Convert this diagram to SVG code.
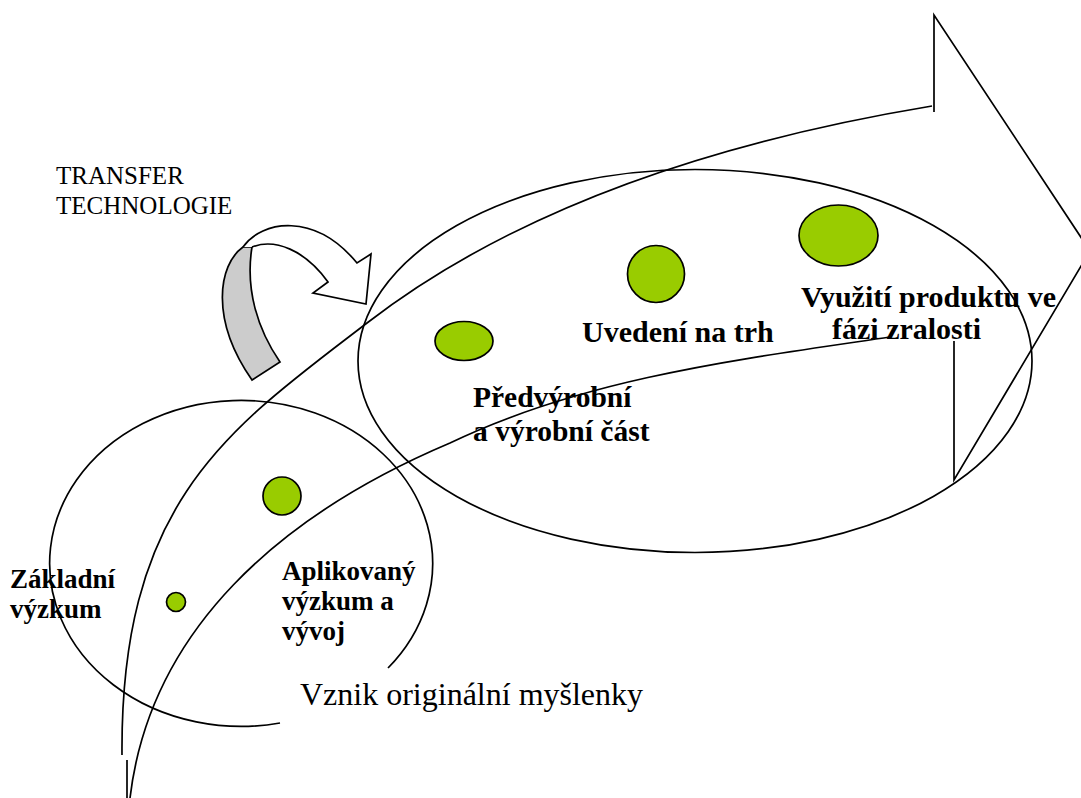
<svg xmlns="http://www.w3.org/2000/svg" width="1081" height="798" viewBox="0 0 1081 798">
<style>
.ln{fill:none;stroke:#000;stroke-width:1.7}
.dot{fill:#99CC00;stroke:#000;stroke-width:1.7}
.b{font-family:"Liberation Serif","Times New Roman",serif;font-weight:bold;fill:#000}
.r{font-family:"Liberation Serif","Times New Roman",serif;fill:#000}
</style>
<rect width="1081" height="798" fill="#fff"/>
<g id="transfer-label">
<text class="r" x="56" y="184" font-size="25">TRANSFER</text>
<text class="r" x="56" y="214" font-size="25">TECHNOLOGIE</text>
</g>
<g id="transfer-arrow">
<path d="M243,247 C218,265 210,320 252,380 L280,362 C258,330 245,290 252,247 Z" fill="#CCCCCC" stroke="#000" stroke-width="1.7"/>
<path d="M243,247 C262,220 315,212 357,263 L371,254 L366,304 L313,293 L328,282 C305,250 275,238 252,247" fill="#fff" stroke="#000" stroke-width="1.7" stroke-linejoin="miter"/>
</g>
<g id="stage-left">
<path class="ln" d="M388,668 A191.5,163 0 1 0 280,723"/>
</g>
<g id="stage-right">
<ellipse class="ln" cx="695" cy="361" rx="337" ry="191.5"/>
</g>
<g id="node-zakladni">
<circle class="dot" cx="176" cy="602" r="9.5"/>
<text class="b" x="10" y="588" font-size="27">Základní</text>
<text class="b" x="10" y="618" font-size="27">výzkum</text>
</g>
<g id="node-aplikovany">
<circle class="dot" cx="282" cy="496" r="19"/>
<text class="b" x="282" y="580" font-size="27">Aplikovaný</text>
<text class="b" x="282" y="610" font-size="27">výzkum a</text>
<text class="b" x="282" y="640" font-size="27">vývoj</text>
</g>
<g id="node-predvyrobni">
<ellipse class="dot" cx="464" cy="341" rx="29" ry="19.5"/>
<text class="b" x="473" y="407" font-size="29.5">Předvýrobní</text>
<text class="b" x="473" y="441" font-size="29.5">a výrobní část</text>
</g>
<g id="node-uvedeni">
<circle class="dot" cx="656" cy="274" r="28.5"/>
<text class="b" x="582" y="342" font-size="30">Uvedení na trh</text>
</g>
<g id="node-vyuziti">
<ellipse class="dot" cx="838.5" cy="235.5" rx="39.5" ry="30.5"/>
<text class="b" x="801" y="307" font-size="30">Využití produktu ve</text>
<text class="b" x="832" y="339" font-size="30">fázi zralosti</text>
</g>
<g id="label-vznik">
<text class="r" x="300" y="705" font-size="32">Vznik originální myšlenky</text>
</g>
<g id="connectors">
<path class="ln" d="M122,755 C120,500 230,428 367,323 C525,201 733,139 932,106"/>
<path class="ln" d="M934,112 L934,15 L1090,251 L954,480 L954,341"/>
<path class="ln" d="M130,798 C150,630 280,515 450,443 C585,378 741,359 890,337"/>
<path class="ln" d="M127,760 L127,798"/>
</g>
</svg>
